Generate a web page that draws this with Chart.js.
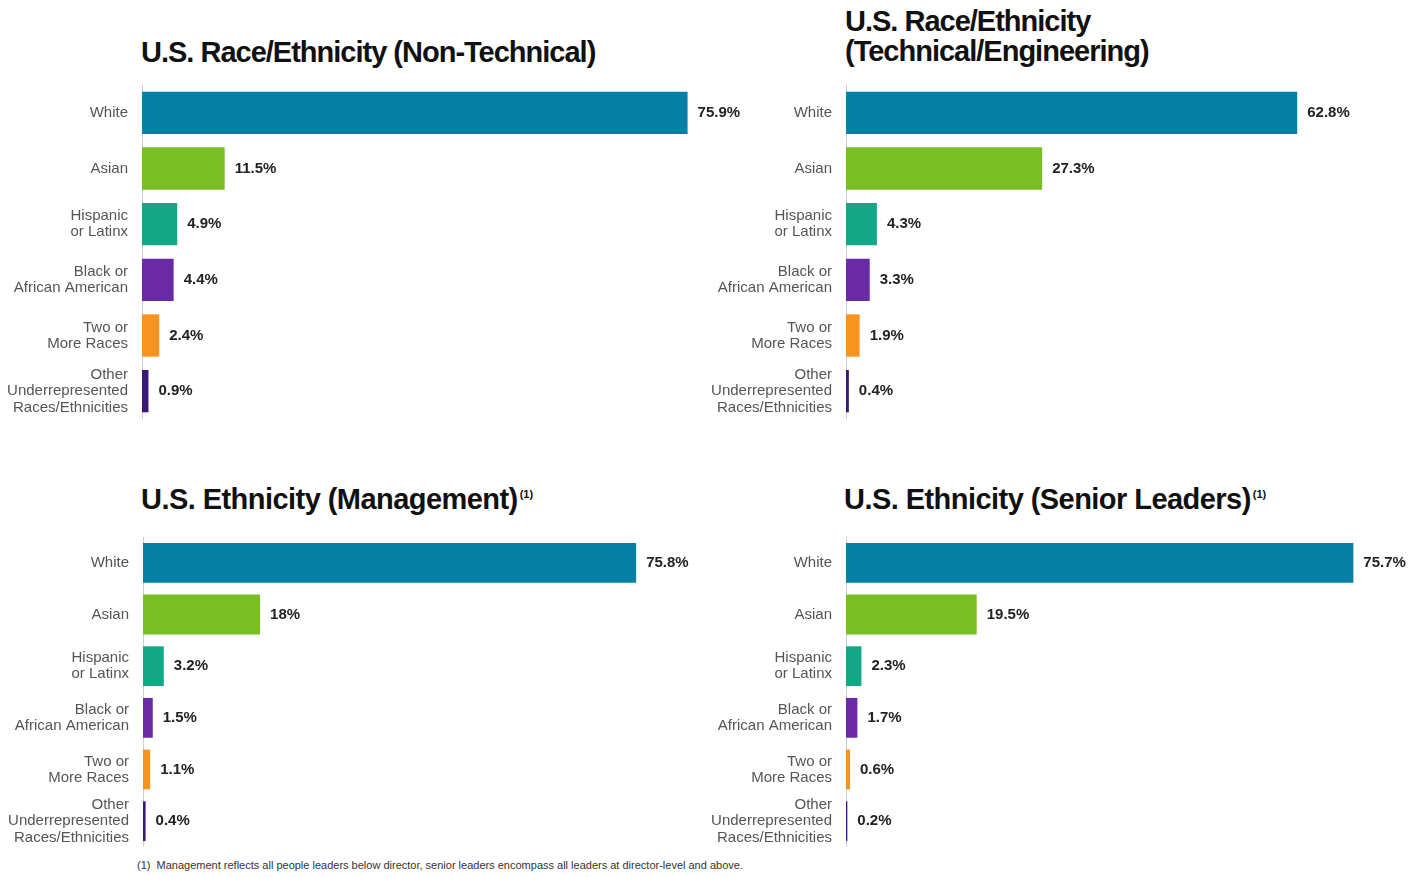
<!DOCTYPE html>
<html>
<head>
<meta charset="utf-8">
<style>
    body { margin: 0; background: #fff; width: 1410px; height: 877px; position: relative; overflow: hidden;
           font-family: "Liberation Sans Narrow", "Arial Narrow", "Liberation Sans", Arial, sans-serif; }
    .title { position: absolute; font-weight: bold; font-size: 29px; letter-spacing: -1px; color: #111; line-height: 30px; white-space: nowrap; }
    .title.wide { letter-spacing: -0.55px; }
    .title sup { font-size: 11px; letter-spacing: 0; vertical-align: top; position: relative; top: -5px; margin-left: 2px; }
    .box { position: absolute; }
    .note { position: absolute; left: 137px; top: 859px; font-size: 11px; color: #333; white-space: nowrap; }
</style>
</head>
<body>
    <div class="title" style="left:141px; top:37px;">U.S. Race/Ethnicity (Non-Technical)</div>
    <div class="title" style="left:845px; top:6px;">U.S. Race/Ethnicity<br>(Technical/Engineering)</div>
    <div class="title wide" style="left:141px; top:484px;">U.S. Ethnicity (Management)<sup>(1)</sup></div>
    <div class="title wide" style="left:844px; top:484px;">U.S. Ethnicity (Senior Leaders)<sup>(1)</sup></div>

    <div class="box" style="left:0px; top:85px; width:753px; height:334px;"><canvas id="c1"></canvas></div>
    <div class="box" style="left:704px; top:85px; width:706px; height:334px;"><canvas id="c2"></canvas></div>
    <div class="box" style="left:0px; top:537px; width:696px; height:310px;"><canvas id="c3"></canvas></div>
    <div class="box" style="left:704px; top:537px; width:705px; height:310px;"><canvas id="c4"></canvas></div>

    <div class="note">(1)&nbsp; Management reflects all people leaders below director, senior leaders encompass all leaders at director-level and above.</div>

    <script src="https://cdn.jsdelivr.net/npm/chart.js"></script>
    <script>
        // 카테고리 (y축 라벨, 여러 줄)
        const categories = [
            'White',
            'Asian',
            ['Hispanic', 'or Latinx'],
            ['Black or', 'African American'],
            ['Two or', 'More Races'],
            ['Other', 'Underrepresented', 'Races/Ethnicities']
        ];

        // 각 차트의 값 (%)
        const nonTechnical = [75.9, 11.5, 4.9, 4.4, 2.4, 0.9];
        const technical    = [62.8, 27.3, 4.3, 3.3, 1.9, 0.4];
        const management   = [75.8, 18, 3.2, 1.5, 1.1, 0.4];
        const seniorLeads  = [75.7, 19.5, 2.3, 1.7, 0.6, 0.2];

        const barColors = ['#0580a4', '#79be22', '#14a886', '#6a2aa6', '#f7931e', '#3a1878'];

        const FONT = '"Liberation Sans Narrow", "Arial Narrow", "Liberation Sans", Arial, sans-serif';

        // 막대 끝에 값 라벨 그리기
        const valueLabels = {
            id: 'valueLabels',
            afterDatasetsDraw(chart) {
                const ctx = chart.ctx;
                const data = chart.data.datasets[0].data;
                ctx.save();
                ctx.font = 'bold 15px ' + FONT;
                ctx.fillStyle = '#222';
                ctx.textAlign = 'left';
                ctx.textBaseline = 'middle';
                chart.getDatasetMeta(0).data.forEach((bar, i) => {
                    ctx.fillText(data[i] + '%', bar.x + 10, bar.y);
                });
                ctx.restore();
            }
        };

        function makeChart(id, values, xMax, axisWidth, barPct) {
            new Chart(document.getElementById(id), {
                type: 'bar',
                data: {
                    labels: categories,
                    datasets: [{
                        data: values,
                        backgroundColor: barColors,
                        borderWidth: 0,
                        barPercentage: barPct,
                        categoryPercentage: 1
                    }]
                },
                options: {
                    indexAxis: 'y',
                    responsive: true,
                    maintainAspectRatio: false,
                    animation: false,
                    layout: { padding: 0 },
                    plugins: { legend: { display: false }, tooltip: { enabled: false } },
                    scales: {
                        x: { display: false, min: 0, max: xMax },
                        y: {
                            grid: { display: false, drawTicks: false },
                            border: { display: true, color: '#c5d2d8', width: 1 },
                            ticks: {
                                color: '#555',
                                padding: 14,
                                font: { family: FONT, size: 15, lineHeight: 1.08 }
                            },
                            afterFit(scale) {
                                // 고정 폭, 라벨 때문에 생기는 위/아래 여백 제거
                                scale.width = axisWidth;
                                scale.paddingTop = 0;
                                scale.paddingBottom = 0;
                            }
                        }
                    }
                },
                plugins: [valueLabels]
            });
        }

        makeChart('c1', nonTechnical, 85, 142, 0.76);
        makeChart('c2', technical, 78.5, 142, 0.76);
        makeChart('c3', management, 85, 143, 0.77);
        makeChart('c4', seniorLeads, 84, 142, 0.77);
    </script>
</body>
</html>
